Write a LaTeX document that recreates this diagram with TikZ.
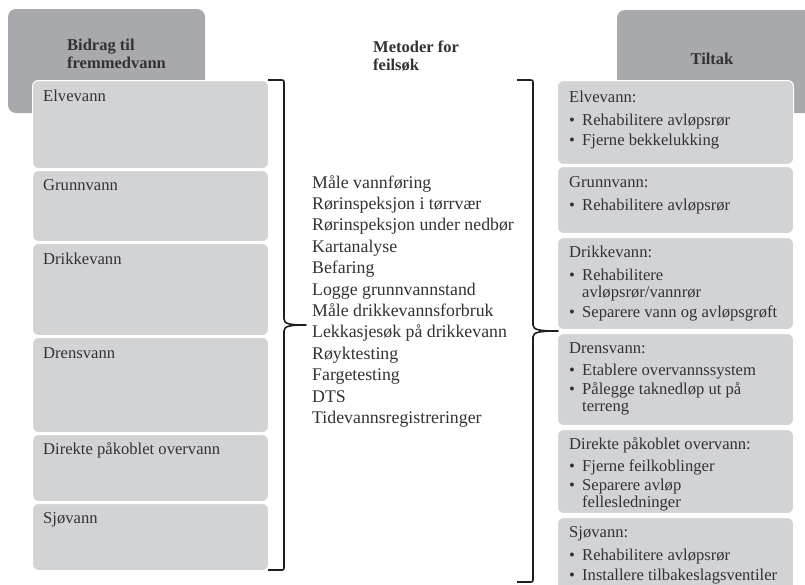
\documentclass[tikz,border=0pt]{standalone}
\usepackage{fontspec}
\setmainfont{Liberation Serif}
\definecolor{hdrgray}{RGB}{168,169,172}
\definecolor{cellgray}{RGB}{210,211,213}
\definecolor{txt}{RGB}{50,50,52}
\definecolor{brace}{RGB}{30,30,30}
\tikzset{
  hdrbox/.style={rounded corners=8pt, fill=hdrgray, draw=none},
  cell/.style={rounded corners=6pt, fill=cellgray, draw=white, line width=1pt,
    anchor=north west, inner sep=0pt},
  hdrtxt/.style={anchor=base west, inner sep=0pt, text=txt,
    font=\fontsize{16.5}{18}\selectfont\bfseries},
  lbl/.style={anchor=base west, inner sep=0pt, text=txt,
    font=\fontsize{16.6}{20}\selectfont},
  meth/.style={anchor=base west, inner sep=0pt, text=txt,
    font=\fontsize{17.8}{21}\selectfont},
  rtxt/.style={anchor=base west, inner sep=0pt, text=txt,
    font=\fontsize{16.6}{20}\selectfont},
  bracestyle/.style={draw=brace, line width=1.6pt, line join=round},
}
\begin{document}
\begin{tikzpicture}[x=1pt, y=-1pt]
\useasboundingbox (0,0) rectangle (805,584);
\clip (0,0) rectangle (805,584);

% column headers
\path[hdrbox] (8,9) rectangle (205,113);
\path[hdrbox] (617,10) rectangle (830,113);
\node[hdrtxt] (h1a) at (67,50) {Bidrag til};
\node[hdrtxt] (h1b) at (67,68) {fremmedvann};
\node[hdrtxt] (h2a) at (373,52) {Metoder for};
\node[hdrtxt] (h2b) at (373,70) {feilsøk};
\node[hdrtxt, anchor=base] (h3) at (712,64) {Tiltak};

% left column: sources
\node[cell, minimum width=236pt, minimum height=88pt] (lb1) at (32,80) {};
\node[cell, minimum width=236pt, minimum height=71pt] (lb2) at (32,170) {};
\node[cell, minimum width=236pt, minimum height=92pt] (lb3) at (32,243) {};
\node[cell, minimum width=236pt, minimum height=95pt] (lb4) at (32,337) {};
\node[cell, minimum width=236pt, minimum height=67pt] (lb5) at (32,434) {};
\node[cell, minimum width=236pt, minimum height=67pt] (lb6) at (32,503) {};
\node[lbl] (l1) at (43,101) {Elvevann};
\node[lbl] (l2) at (43,190) {Grunnvann};
\node[lbl] (l3) at (43,264) {Drikkevann};
\node[lbl] (l4) at (43,358) {Drensvann};
\node[lbl] (l5) at (43,454) {Direkte påkoblet overvann};
\node[lbl] (l6) at (43,523) {Sjøvann};

% middle column: methods
\foreach \t [count=\i] in {Måle vannføring, Rørinspeksjon i tørrvær,
  Rørinspeksjon under nedbør, Kartanalyse, Befaring, Logge grunnvannstand,
  Måle drikkevannsforbruk, Lekkasjesøk på drikkevann, Røyktesting,
  Fargetesting, DTS, Tidevannsregistreringer}
  \node[meth] (m\i) at (312,{188+21.4*(\i-1)}) {\t};

% right column: measures
\node[cell, minimum width=236pt, minimum height=84pt] (rb1) at (557,80) {};
\node[cell, minimum width=236pt, minimum height=67pt] (rb2) at (557,166) {};
\node[cell, minimum width=236pt, minimum height=92pt] (rb3) at (557,237) {};
\node[cell, minimum width=236pt, minimum height=92pt] (rb4) at (557,333) {};
\node[cell, minimum width=236pt, minimum height=84pt] (rb5) at (557,429) {};
\node[cell, minimum width=236pt, minimum height=90pt] (rb6) at (557,517) {};

\newcommand\rhead[3]{\node[rtxt] (#1) at (569,#2) {#3};}
\newcommand\ritem[3]{\node[rtxt] (#1b) at (569,#2) {•};
  \node[rtxt] (#1) at (582,#2) {#3};}
\newcommand\rcont[3]{\node[rtxt] (#1) at (582,#2) {#3};}

\rhead{r1}{102}{Elvevann:}
\ritem{r1a}{125}{Rehabilitere avløpsrør}
\ritem{r1b}{145}{Fjerne bekkelukking}

\rhead{r2}{187}{Grunnvann:}
\ritem{r2a}{210}{Rehabilitere avløpsrør}

\rhead{r3}{257}{Drikkevann:}
\ritem{r3a}{280}{Rehabilitere}
\rcont{r3c}{297}{avløpsrør/vannrør}
\ritem{r3b}{317}{Separere vann og avløpsgrøft}

\rhead{r4}{353}{Drensvann:}
\ritem{r4a}{375}{Etablere overvannssystem}
\ritem{r4b}{394}{Pålegge taknedløp ut på}
\rcont{r4c}{411}{terreng}

\rhead{r5}{449}{Direkte påkoblet overvann:}
\ritem{r5a}{471}{Fjerne feilkoblinger}
\ritem{r5b}{490}{Separere avløp}
\rcont{r5c}{507}{fellesledninger}

\rhead{r6}{537}{Sjøvann:}
\ritem{r6a}{560}{Rehabilitere avløpsrør}
\ritem{r6b}{580}{Installere tilbakeslagsventiler}

% braces
\coordinate (bl1) at (268,80);
\coordinate (bl2) at (268,570);
\coordinate (bltip) at (306,325);
\draw[bracestyle] (bl1) -- (280,80) .. controls (284,80) .. (284,84)
  -- (284,319) .. controls (284,324) and (290,325) .. (bltip)
  .. controls (290,325) and (284,326) .. (284,331)
  -- (284,566) .. controls (284,570) .. (280,570) -- (bl2);

\coordinate (br1) at (517,80);
\coordinate (br2) at (517,582);
\coordinate (brtip) at (558,331);
\draw[bracestyle] (br1) -- (529,80) .. controls (533,80) .. (533,84)
  -- (533,325) .. controls (533,330) and (540,331) .. (brtip)
  .. controls (540,331) and (533,332) .. (533,337)
  -- (533,578) .. controls (533,582) .. (529,582) -- (br2);
\end{tikzpicture}
\end{document}
